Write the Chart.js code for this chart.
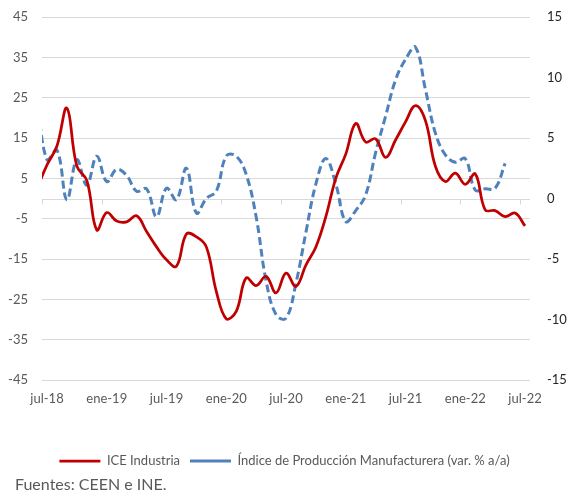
<!DOCTYPE html>
<html>
<head>
<meta charset="utf-8">
<script src="https://cdn.jsdelivr.net/npm/chart.js@4.4.1/dist/chart.umd.min.js"></script>
<style>
  body { margin: 0; background: #fff; }
  #wrap { position: relative; width: 569px; height: 495px; }
  #box { position: absolute; left: 0; top: 0; width: 569px; height: 495px; }
  #fuente { position: absolute; left: 15px; top: 474px; font: 16px Lato, sans-serif; color: #595959; }
</style>
</head>
<body>
<div id="wrap">
  <div id="box"><canvas id="grafico"></canvas></div>
  <div id="fuente">Fuentes: CEEN e INE.</div>
</div>
<script>
// meses desde jun-18 (queda recortado a la izquierda) hasta jul-22
const meses = [
  'jun-18', 'jul-18', 'ago-18', 'sep-18', 'oct-18', 'nov-18', 'dic-18',
  'ene-19', 'feb-19', 'mar-19', 'abr-19', 'may-19', 'jun-19', 'jul-19', 'ago-19', 'sep-19', 'oct-19', 'nov-19', 'dic-19',
  'ene-20', 'feb-20', 'mar-20', 'abr-20', 'may-20', 'jun-20', 'jul-20', 'ago-20', 'sep-20', 'oct-20', 'nov-20', 'dic-20',
  'ene-21', 'feb-21', 'mar-21', 'abr-21', 'may-21', 'jun-21', 'jul-21', 'ago-21', 'sep-21', 'oct-21', 'nov-21', 'dic-21',
  'ene-22', 'feb-22', 'mar-22', 'abr-22', 'may-22', 'jun-22', 'jul-22'
];

// ICE Industria (eje izquierdo)
const iceIndustria = [
  2.5, 8.3, 13, 22.4, 8, 4.5, -7.8,
  -3.5, -5.6, -5.8, -4.3, -8.2, -12, -15.2, -16.8, -8.8, -9.5, -12, -23,
  -29.8, -28, -19.7, -21.6, -19.3, -23.4, -18.5, -21.8, -16.5, -12, -4.5, 5,
  11, 18.6, 14, 14.8, 10.2, 14.5, 19, 23, 19.3, 8, 4.2, 6.3,
  3.5, 6.1, -2.8, -3, -4.5, -3.6, -6.8
];

// Índice de Producción Manufacturera, var. % a/a (eje derecho), hasta may-22
const ipm = [
  8.2, 3.2, 4.0, -0.1, 3.2, 1.1, 3.5,
  1.4, 2.4, 1.9, 0.6, 0.8, -1.5, 0.85, -0.1, 2.5, -1.2, 0.0, 0.6,
  3.5, 3.5, 2.0, -1.5, -6.8, -9.6, -9.9, -7, -2.8, 1.2, 3.3, 1.2,
  -1.9, -1.0, 0.3, 3.8, 6.8, 9.8, 11.5, 12.5, 9, 5.4, 3.6, 3.0,
  3.3, 0.7, 0.8, 0.85, 2.9
];

// cada mes se dibuja en el centro de su tramo; jul-18 empieza en 0
const puntos = serie => serie.map((v, i) => ({ x: i - 0.5, y: v }));

const gris = '#595959';
const fuente = { family: 'Lato', size: 13 };

// línea del cero con sus marcas (eje de categorías en Excel)
const ejeCero = {
  id: 'ejeCero',
  beforeDatasetsDraw(chart) {
    const { ctx, chartArea, scales } = chart;
    const y0 = Math.round(scales.y.getPixelForValue(0)) + 0.5;
    ctx.save();
    ctx.strokeStyle = '#d9d9d9';
    ctx.lineWidth = 1;
    ctx.beginPath();
    ctx.moveTo(chartArea.left, y0);
    ctx.lineTo(chartArea.right, y0);
    scales.x.ticks.forEach(t => {
      const x = Math.round(scales.x.getPixelForValue(t.value)) + 0.5;
      ctx.moveTo(x, y0);
      ctx.lineTo(x, y0 + 5);
    });
    ctx.stroke();
    ctx.restore();
  }
};

new Chart(document.getElementById('grafico'), {
  type: 'line',
  data: {
    datasets: [
      {
        label: 'ICE Industria',
        data: puntos(iceIndustria),
        yAxisID: 'y',
        borderColor: '#C00000',
        backgroundColor: '#C00000',
        borderWidth: 2.75,
        pointRadius: 0,
        tension: 0.4
      },
      {
        label: 'Índice de Producción Manufacturera (var. % a/a)',
        data: puntos(ipm),
        yAxisID: 'y2',
        borderColor: '#4F81BD',
        backgroundColor: '#4F81BD',
        borderWidth: 3,
        borderDash: [8, 4],
        pointRadius: 0,
        tension: 0.4
      }
    ]
  },
  options: {
    responsive: true,
    maintainAspectRatio: false,
    animation: false,
    layout: { padding: { top: 17, bottom: 17.5, left: 0, right: 0 } },
    plugins: {
      tooltip: { enabled: false },
      legend: {
        position: 'bottom',
        labels: {
          usePointStyle: true,
          pointStyle: 'line',
          pointStyleWidth: 41,
          padding: 10,
          color: gris,
          font: fuente
        }
      }
    },
    scales: {
      x: {
        type: 'linear',
        min: 0,
        max: 49,
        grid: { display: false, drawTicks: false },
        border: { display: false },
        ticks: {
          stepSize: 6,
          includeBounds: false,
          autoSkip: false,
          maxRotation: 0,
          labelOffset: 5,
          padding: 11,
          color: gris,
          font: fuente,
          callback: v => meses[v + 1]
        },
        afterFit: s => { s.height = 64.5; }
      },
      y: {
        position: 'left',
        min: -45,
        max: 45,
        grid: { color: '#d9d9d9', tickLength: 12, tickColor: 'rgba(0,0,0,0)' },
        border: { display: false },
        ticks: { stepSize: 10, padding: 2, color: gris, font: fuente },
        afterFit: s => { s.width = 42; }
      },
      y2: {
        position: 'right',
        min: -15,
        max: 15,
        grid: { display: false, tickLength: 15 },
        border: { display: false },
        ticks: { stepSize: 5, padding: 2, color: '#262626', font: fuente },
        afterFit: s => { s.width = 39; }
      }
    }
  },
  plugins: [ejeCero]
});
</script>
</body>
</html>
